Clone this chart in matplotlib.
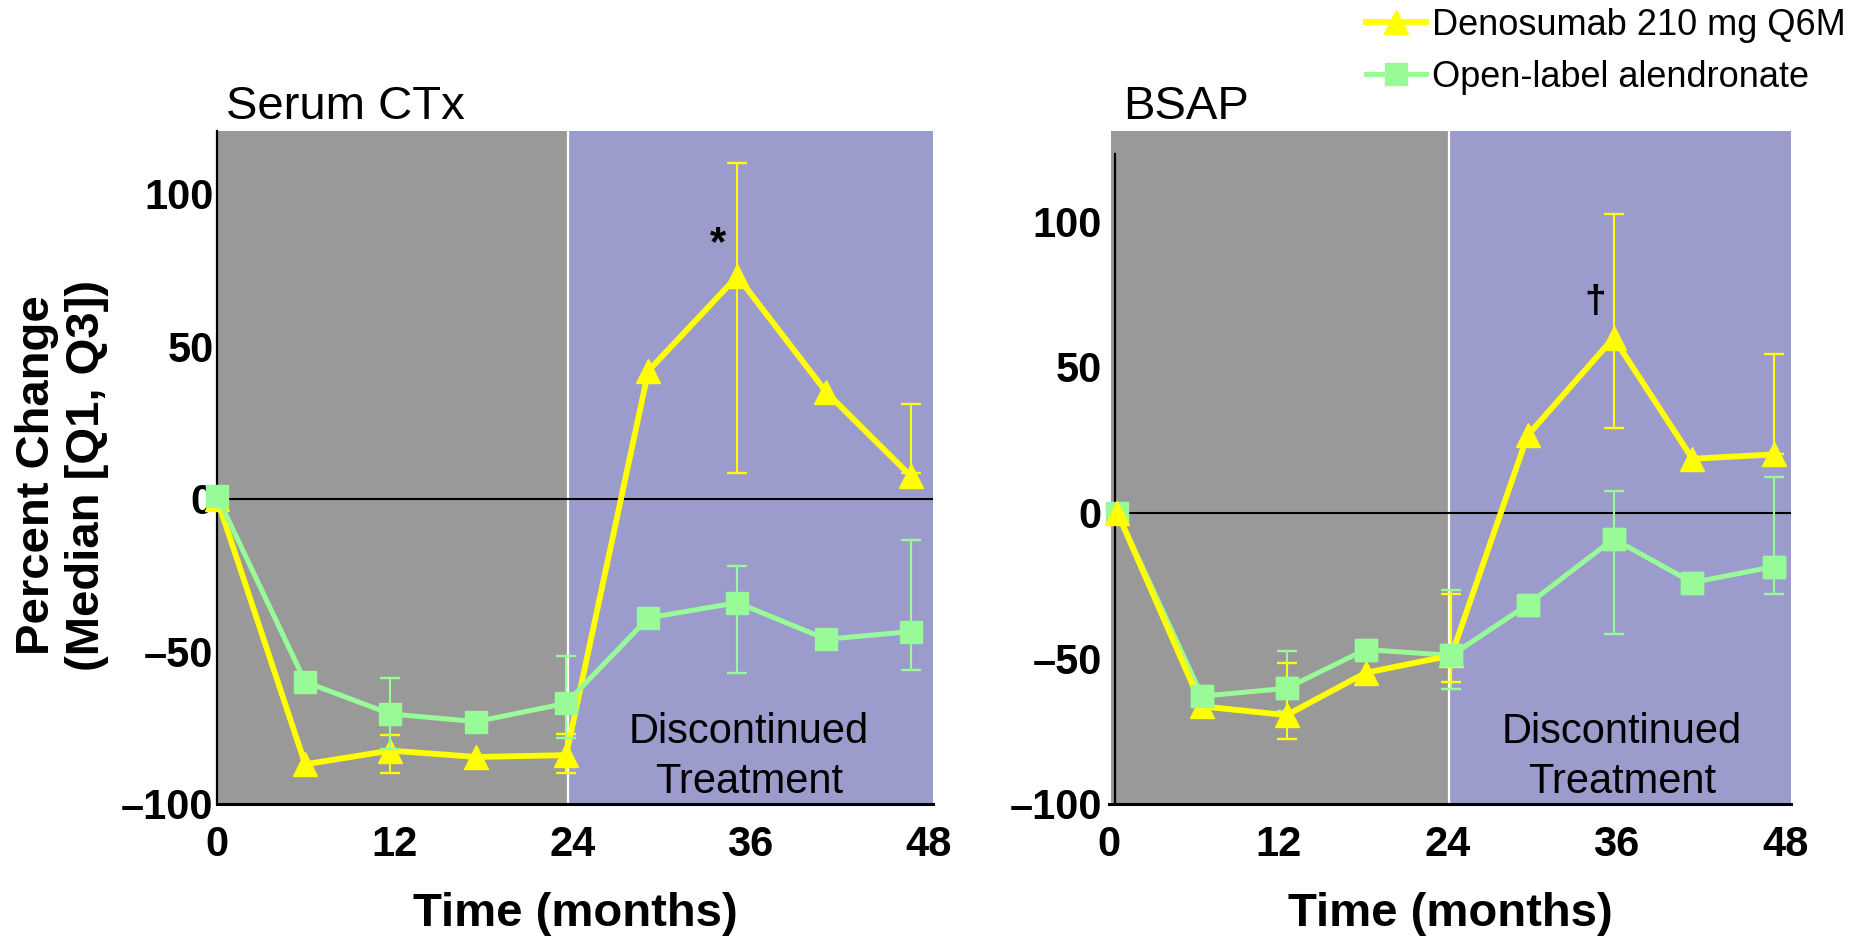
import numpy as np
import matplotlib
matplotlib.use("Agg")
import matplotlib.pyplot as plt
from matplotlib.lines import Line2D
from matplotlib.ticker import FuncFormatter

plt.rcParams['font.family'] = ['Liberation Sans', 'DejaVu Sans']

# ---- data (percent change, median [Q1, Q3]) ----
months_ctx = [0, 5.95, 11.7, 17.5, 23.55, 29.1, 35.1, 41.1, 46.8]
deno_ctx = [0, -87, -82.5, -84.6, -84, 42, 73, 35, 7.5]
alen_ctx = [1, -60, -70.5, -73, -67, -39, -34, -46, -43.5]
deno_ctx_q1 = [np.nan, np.nan, -89.8, np.nan, -90, np.nan, 8.5, np.nan, 8.5]
deno_ctx_q3 = [np.nan, np.nan, -77.4, np.nan, -77, np.nan, 110, np.nan, 31]
alen_ctx_q1 = [np.nan, np.nan, -82, np.nan, -78.5, np.nan, -57, np.nan, -56]
alen_ctx_q3 = [np.nan, np.nan, -58.7, np.nan, -51.5, np.nan, -22, np.nan, -13.5]

months_bsap = [0.59, 6.6, 12.6, 18.2, 24.3, 29.7, 35.8, 41.4, 47.2]
deno_bsap = [0, -66.5, -69.5, -55, -49, 26.5, 60, 18.5, 20]
alen_bsap = [0, -63, -60.3, -47, -49, -31.6, -9, -24, -18.5]
deno_bsap_q1 = [np.nan, np.nan, -77.8, np.nan, -58, np.nan, 29, np.nan, 20.3]
deno_bsap_q3 = [np.nan, np.nan, -51.7, np.nan, -28, np.nan, 102.5, np.nan, 54.6]
alen_bsap_q1 = [np.nan, np.nan, -68, np.nan, -60.5, np.nan, -41.6, np.nan, -28]
alen_bsap_q3 = [np.nan, np.nan, -47.5, np.nan, -26.5, np.nan, 7.6, np.nan, 12.4]

xticks = [0, 12, 24, 36, 48]
yticks = [-100, -50, 0, 50, 100]

YELLOW = '#ffff00'
GREEN = '#98fb98'
GRAY = '#999999'
PURPLE = '#9c9ccc'


def draw_series(ax, x, y, q1, q3, color, marker, ms, lw, z):
    x = np.array(x)
    q1 = np.array(q1)
    q3 = np.array(q3)
    m = ~np.isnan(q1)
    # bars span Q1..Q3 (drawn around their midpoint)
    mid = (q1[m] + q3[m]) / 2
    half = np.abs(q3[m] - q1[m]) / 2
    ax.errorbar(x[m], mid, yerr=half, fmt='none',
                ecolor=color, elinewidth=1.5, capsize=7.2, capthick=1.7,
                zorder=z)
    ax.plot(x, y, color=color, lw=lw, marker=marker, ms=ms, mec=color,
            mfc=color, zorder=z + 1, clip_on=False)


def setup_panel(ax, xlim, spine_x, ylim, split, spine_top, ypad):
    ax.set_xlim(*xlim)
    ax.set_ylim(*ylim)
    ax.axvspan(xlim[0], split, color=GRAY, zorder=0, lw=0)
    ax.axvspan(split + 0.1, xlim[1], color=PURPLE, zorder=0, lw=0)
    ax.axvline(split + 0.05, color='white', lw=1.6, zorder=1)
    ax.axhline(0, color='black', lw=1.5, zorder=2)
    for s in ['top', 'right']:
        ax.spines[s].set_visible(False)
    ax.spines['left'].set_position(('data', spine_x))
    ax.spines['left'].set_bounds(ylim[0], spine_top)
    ax.spines['left'].set_linewidth(1.6)
    ax.spines['bottom'].set_linewidth(2.2)
    ax.spines['left'].set_zorder(3)
    ax.spines['bottom'].set_zorder(3)
    ax.set_xticks(xticks)
    ax.set_yticks(yticks)
    ax.yaxis.set_major_formatter(FuncFormatter(lambda v, p: f"{v:.0f}".replace('-', '\u2013')))
    ax.tick_params(axis='x', length=0, pad=15.5, labelsize=30)
    ax.tick_params(axis='y', length=0, pad=ypad, labelsize=30)
    for lab in ax.get_xticklabels() + ax.get_yticklabels():
        lab.set_fontweight('bold')
    ax.set_xlabel('Time (months)', fontsize=34, fontweight='bold', labelpad=19)


fig = plt.figure(figsize=(18.63, 9.38), dpi=100)
ax1 = fig.add_axes([0.1165, 0.1429, 0.3843, 0.7174])
ax2 = fig.add_axes([0.5953, 0.1429, 0.3661, 0.7174])

setup_panel(ax1, (0, 48.3), 0, (-100, 120.6), 23.65, 120.6, 2.5)
setup_panel(ax2, (0.17, 48.4), 0.42, (-100, 131), 24.05, 123, 9.5)

draw_series(ax1, months_ctx, deno_ctx, deno_ctx_q1, deno_ctx_q3, YELLOW, '^', 17, 4.2, 4)
draw_series(ax1, months_ctx, alen_ctx, alen_ctx_q1, alen_ctx_q3, GREEN, 's', 15.5, 3.6, 6)
draw_series(ax2, months_bsap, alen_bsap, alen_bsap_q1, alen_bsap_q3, GREEN, 's', 15.5, 3.6, 4)
draw_series(ax2, months_bsap, deno_bsap, deno_bsap_q1, deno_bsap_q3, YELLOW, '^', 17, 4.2, 6)
# green markers after 0 sit on top of the yellow ones in the BSAP panel
ax2.plot(months_bsap[1:], alen_bsap[1:], ls='none', marker='s', ms=15.5,
         color=GREEN, zorder=8)

for ax, xc, yc in [(ax1, 35.9, -84.5), (ax2, 36.4, -84)]:
    ax.text(xc, yc, 'Discontinued\nTreatment', ha='center', va='center',
            fontsize=30, linespacing=1.33, zorder=9)

ax1.text(33.8, 83.6, '*', ha='center', va='center', fontsize=30,
         fontweight='bold', zorder=9)
ax2.text(34.5, 72.2, '\u2020', ha='center', va='center', fontsize=28,
         fontweight='bold', zorder=9)

fig.text(0.1212, 0.873, 'Serum CTx', fontsize=34, va='baseline', ha='left')
fig.text(0.6027, 0.873, 'BSAP', fontsize=34, va='baseline', ha='left')

fig.text(0.0333, 0.4936, 'Percent Change\n(Median [Q1, Q3])', rotation=90,
         ha='center', va='center', fontsize=34, fontweight='bold',
         linespacing=1.15)

handles = [
    Line2D([], [], color=YELLOW, lw=4.2, marker='^', ms=17),
    Line2D([], [], color=GREEN, lw=3.6, marker='s', ms=15.5),
]
labels = ['Denosumab 210 mg Q6M', 'Open-label alendronate']
fig.legend(handles, labels, loc='upper left', bbox_to_anchor=(1366 / 1863, 0.992),
           frameon=False, fontsize=26, handlelength=1.65, handletextpad=0.17,
           labelspacing=0.48, borderpad=0, borderaxespad=0, numpoints=1)

fig.savefig('out.png', dpi=100)
